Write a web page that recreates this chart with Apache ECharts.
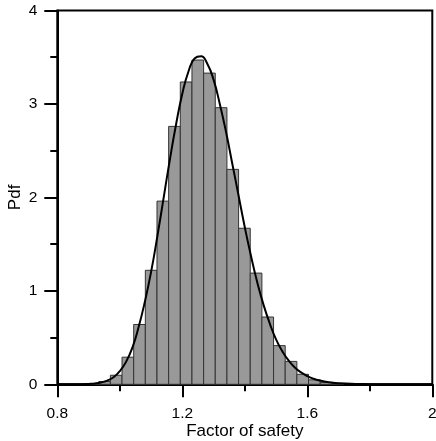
<!DOCTYPE html>
<html>
<head>
<meta charset="utf-8">
<script src="https://cdn.jsdelivr.net/npm/echarts@6/dist/echarts.min.js"></script>
<style>
html,body{margin:0;padding:0;background:#fff;}
#chart{width:436px;height:441px;}
</style>
</head>
<body>
<div id="chart"></div>
<script>
// Histogram bins (left edges) and heights
var binWidth = 0.0373;
var binLefts = [0.8952, 0.9325, 0.9698, 1.0071, 1.0444, 1.0817, 1.1190, 1.1563, 1.1936, 1.2309, 1.2682,
                1.3055, 1.3428, 1.3801, 1.4174, 1.4547, 1.4920, 1.5293, 1.5666, 1.6039, 1.6412, 1.6785];
var binHeights = [0.008, 0.03, 0.097, 0.29, 0.64, 1.22, 1.96, 2.76, 3.235, 3.47, 3.33,
                  2.96, 2.30, 1.67, 1.19, 0.72, 0.414, 0.245, 0.107, 0.048, 0.02, 0.008];

// Fitted pdf curve
var curveX = [0.80, 0.84, 0.88, 0.90, 0.92, 0.94, 0.96, 0.98, 1.00, 1.02, 1.04, 1.06, 1.08, 1.10, 1.12, 1.14,
              1.16, 1.18, 1.20, 1.22, 1.24, 1.26, 1.28, 1.30, 1.32, 1.34, 1.36, 1.38, 1.40, 1.42, 1.44,
              1.46, 1.48, 1.50, 1.52, 1.54, 1.56, 1.58, 1.60, 1.62, 1.64, 1.66, 1.68, 1.70, 1.74, 1.78,
              1.82, 1.86, 1.92, 2.00];
var curveY = [0, 0, 0.001, 0.004, 0.009, 0.02, 0.04, 0.075, 0.14, 0.24, 0.39, 0.61, 0.88, 1.2, 1.58, 1.99,
              2.4, 2.78, 3.11, 3.35, 3.49, 3.51, 3.43, 3.26, 3.0, 2.7, 2.36, 2.02, 1.68, 1.37, 1.09,
              0.85, 0.65, 0.48, 0.355, 0.255, 0.18, 0.127, 0.088, 0.06, 0.04, 0.027, 0.018, 0.012, 0.005, 0.002,
              0.001, 0, 0, 0];

// Axis
var xMin = 0.8, xMax = 2.0, xStep = 0.4;
var yMin = 0, yMax = 4, yStep = 1;

var barData = binLefts.map(function (l, i) { return [l, l + binWidth, binHeights[i]]; });
var lineData = curveX.map(function (x, i) { return [x, curveY[i]]; });

var font = 'Liberation Sans, Arial, sans-serif';
var chart = echarts.init(document.getElementById('chart'), null, {renderer: 'canvas'});
chart.setOption({
  animation: false,
  backgroundColor: '#ffffff',
  grid: {left: 57.3, right: 3.7, top: 10.5, bottom: 56.7, containLabel: false, outerBoundsMode: 'none',
         show: true, borderColor: '#000', borderWidth: 2, backgroundColor: 'transparent'},
  xAxis: {
    type: 'value', min: xMin, max: xMax, interval: xStep,
    name: 'Factor of safety', nameLocation: 'middle', nameGap: 39, nameMoveOverlap: false,
    nameTextStyle: {fontFamily: font, fontSize: 17, color: '#000'},
    axisLine: {show: true, lineStyle: {color: '#000', width: 2}},
    axisTick: {show: true, inside: false, length: 13, lineStyle: {color: '#000', width: 2}},
    minorTick: {show: true, splitNumber: 2, length: 7, lineStyle: {color: '#000', width: 2}},
    axisLabel: {fontFamily: font, fontSize: 15.5, color: '#000', margin: 21, hideOverlap: false},
    splitLine: {show: false}
  },
  yAxis: {
    type: 'value', min: yMin, max: yMax, interval: yStep,
    name: 'Pdf', nameLocation: 'middle', nameGap: 33, nameMoveOverlap: false,
    nameTextStyle: {fontFamily: font, fontSize: 17, color: '#000'},
    axisLine: {show: true, lineStyle: {color: '#000', width: 2}},
    axisTick: {show: true, inside: false, length: 13, lineStyle: {color: '#000', width: 2}},
    minorTick: {show: true, splitNumber: 2, length: 7, lineStyle: {color: '#000', width: 2}},
    axisLabel: {fontFamily: font, fontSize: 15.5, color: '#000', margin: 20},
    splitLine: {show: false}
  },
  series: [
    {
      type: 'custom',
      data: barData,
      encode: {x: [0, 1], y: 2},
      renderItem: function (params, api) {
        var p0 = api.coord([api.value(0), api.value(2)]);
        var p1 = api.coord([api.value(1), 0]);
        return {
          type: 'rect',
          shape: {x: p0[0], y: p0[1], width: p1[0] - p0[0], height: p1[1] - p0[1]},
          style: {fill: '#999999', stroke: '#333333', lineWidth: 1}
        };
      },
      z: 2
    },
    {
      type: 'line',
      data: lineData,
      smooth: true,
      showSymbol: false,
      lineStyle: {color: '#000', width: 2},
      z: 3
    }
  ]
});
</script>
</body>
</html>
